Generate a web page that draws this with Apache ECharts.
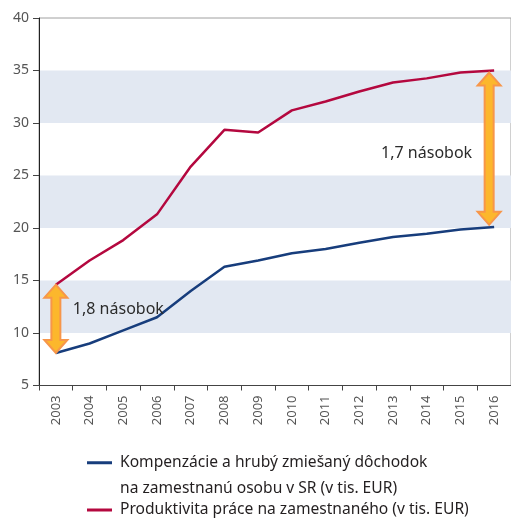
<!DOCTYPE html>
<html>
<head>
<meta charset="utf-8">
<script src="https://cdn.jsdelivr.net/npm/echarts@6/dist/echarts.min.js"></script>
<style>
  html, body { margin: 0; padding: 0; background: #fff; }
  #chart { width: 511px; height: 519px; }
</style>
</head>
<body>
<div id="chart"></div>
<script>
// roky
const years = ['2003', '2004', '2005', '2006', '2007', '2008', '2009', '2010', '2011', '2012', '2013', '2014', '2015', '2016'];
// Kompenzácie a hrubý zmiešaný dôchodok (tis. EUR)
const kompenzacie = [8.1, 9.0, 10.25, 11.5, 14.0, 16.3, 16.9, 17.6, 18.0, 18.6, 19.15, 19.45, 19.85, 20.1];
// Produktivita práce (tis. EUR)
const produktivita = [14.6, 16.9, 18.85, 21.3, 25.85, 29.35, 29.1, 31.2, 32.05, 33.0, 33.85, 34.25, 34.8, 35.0];
const yTicks = [5, 10, 15, 20, 25, 30, 35, 40];

// šípky a popisy
const arrowYears = ['2003', '2016'];
const arrowLow = [8.1, 20.3];
const arrowHigh = [14.6, 34.8];
const arrowText = ['1,8 násobok', '1,7 násobok'];
const arrowTextY = [12.2, 27.1];

const name1 = 'Kompenzácie a hrubý zmiešaný dôchodok\nna zamestnanú osobu v SR (v tis. EUR)';
const name2 = 'Produktivita práce na zamestnaného (v tis. EUR)';
const font = '"Noto Sans", sans-serif';

const chart = echarts.init(document.getElementById('chart'));

function renderArrow(params, api) {
  const i = params.dataIndex;
  const top = api.coord([api.value(0), api.value(2)]);
  const bot = api.coord([api.value(0), api.value(1)]);
  const cx = top[0] + (i === 1 ? -5 : 0);
  const ty = top[1], by = bot[1];
  const hw = 11.5, sw = 4.5, hl = 13;
  const pts = [
    [cx, ty], [cx + hw, ty + hl], [cx + sw, ty + hl], [cx + sw, by - hl], [cx + hw, by - hl],
    [cx, by], [cx - hw, by - hl], [cx - sw, by - hl], [cx - sw, ty + hl], [cx - hw, ty + hl]
  ];
  const ty2 = api.coord([api.value(0), arrowTextY[i]])[1];
  return {
    type: 'group',
    children: [
      {
        type: 'polygon',
        shape: { points: pts },
        style: { fill: '#fcb72c', stroke: '#f7964a', lineWidth: 2 }
      },
      {
        type: 'text',
        x: i === 0 ? cx + 17 : cx - 17,
        y: ty2,
        style: {
          text: arrowText[i],
          fill: '#2b2b2b',
          font: '16px ' + font,
          align: i === 0 ? 'left' : 'right',
          verticalAlign: 'middle'
        }
      }
    ]
  };
}

chart.setOption({
  animation: false,
  textStyle: { fontFamily: font },
  grid: {
    left: 39, right: -9, top: 18, bottom: 133.5,
    show: true, borderColor: '#a0a0a0', borderWidth: 1
  },
  legend: {
    orient: 'vertical',
    left: 87,
    top: 424.5,
    padding: 0,
    itemGap: 0,
    itemWidth: 25,
    itemHeight: 3,
    icon: 'rect',
    formatter: n => (n === name1 ? '\n' + n : n),
    textStyle: { fontSize: 15.6, lineHeight: 25.5, color: '#231f20', padding: [0, 0, 0, 3] },
    data: [
      { name: name1 },
      { name: name2, textStyle: { lineHeight: 18 } }
    ]
  },
  xAxis: {
    type: 'category',
    data: years,
    boundaryGap: true,
    axisLine: { lineStyle: { color: '#444', width: 1 } },
    axisTick: { show: true, interval: 0, length: 5, lineStyle: { color: '#444' } },
    axisLabel: { rotate: 90, margin: 10, fontSize: 13, color: '#555', interval: 0 },
    splitLine: { show: false }
  },
  yAxis: {
    type: 'value',
    min: yTicks[0],
    max: yTicks[yTicks.length - 1],
    interval: 5,
    axisLine: { show: true, lineStyle: { color: '#222', width: 1 } },
    axisTick: { show: true, length: 6, lineStyle: { color: '#444' } },
    axisLabel: { margin: 10, fontSize: 14, color: '#555' },
    splitLine: { show: false },
    splitArea: { show: true, areaStyle: { color: ['rgba(0,0,0,0)', '#e2e8f2'] } }
  },
  series: [
    {
      name: name1,
      type: 'line',
      data: kompenzacie,
      symbol: 'none',
      color: '#173d7c',
      lineStyle: { width: 2.5, color: '#173d7c' },
      z: 3
    },
    {
      name: name2,
      type: 'line',
      data: produktivita,
      symbol: 'none',
      color: '#b4083f',
      lineStyle: { width: 2.5, color: '#b4083f' },
      z: 3
    },
    {
      name: 'arrows',
      type: 'custom',
      silent: true,
      z: 5,
      renderItem: renderArrow,
      data: arrowYears.map((y, i) => [y, arrowLow[i], arrowHigh[i]])
    }
  ]
});
</script>
</body>
</html>
